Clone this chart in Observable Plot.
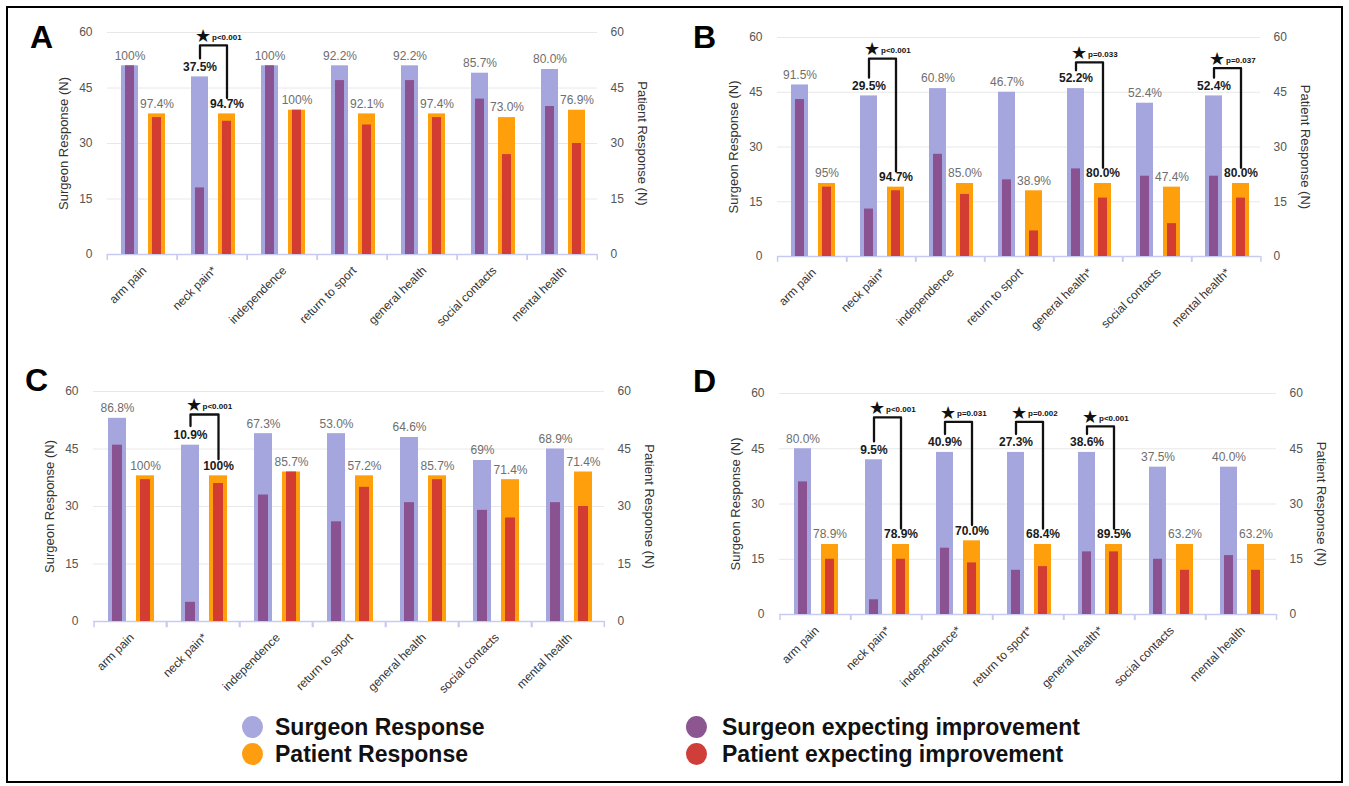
<!DOCTYPE html>
<html><head><meta charset="utf-8">
<script src="https://cdn.jsdelivr.net/npm/d3@7"></script>
<script src="https://cdn.jsdelivr.net/npm/@observablehq/plot@0.6"></script>
<style>
body{margin:0;background:#fff;font-family:"Liberation Sans",Arial,sans-serif;}
#fig{position:relative;width:1349px;height:786px;overflow:hidden;}
#border{position:absolute;left:6px;top:6px;width:1337px;height:777px;border:2px solid #000;box-sizing:border-box;}
.panel{position:absolute;}
.letter{position:absolute;font-size:32px;font-weight:bold;line-height:32px;color:#000;}
.leg{position:absolute;font-size:23px;font-weight:bold;line-height:23px;color:#111;white-space:nowrap;}
.dot{position:absolute;width:21px;height:22px;border-radius:50%;}
</style></head>
<body><div id="fig"><div id="border"></div></div>
<script>
// ---------- DATA ----------
const categories = ["arm pain","neck pain","independence","return to sport","general health","social contacts","mental health"];
const seriesNames = ["Surgeon","Patient"];
const yTicks = [0,15,30,45,60];

// Panel A
const aSurgeonN   = [51,48,51,51,51,49,50];
const aSurgeonImp = [51,18,51,47,47,42,40];
const aPatientN   = [38,38,39,38,38,37,39];
const aPatientImp = [37,36,39,35,37,27,30];
const aSurgeonPct = ["100%","37.5%","100%","92.2%","92.2%","85.7%","80.0%"];
const aPatientPct = ["97.4%","94.7%","100%","92.1%","97.4%","73.0%","76.9%"];
const aSigCats = ["neck pain"];
const aPValues = ["p<0.001"];
const aSigTop  = [56.5];

// Panel B
const bSurgeonN   = [47,44,46,45,46,42,44];
const bSurgeonImp = [43,13,28,21,24,22,22];
const bPatientN   = [20,19,20,18,20,19,20];
const bPatientImp = [19,18,17,7,16,9,16];
const bSurgeonPct = ["91.5%","29.5%","60.8%","46.7%","52.2%","52.4%","52.4%"];
const bPatientPct = ["95%","94.7%","85.0%","38.9%","80.0%","47.4%","80.0%"];
const bSigCats = ["neck pain","general health","mental health"];
const bPValues = ["p<0.001","p=0.033","p=0.037"];
const bSigTop  = [54.2,53.2,51.6];

// Panel C
const cSurgeonN   = [53,46,49,49,48,42,45];
const cSurgeonImp = [46,5,33,26,31,29,31];
const cPatientN   = [38,38,39,38,38,37,39];
const cPatientImp = [37,36,39,35,37,27,30];
const cSurgeonPct = ["86.8%","10.9%","67.3%","53.0%","64.6%","69%","68.9%"];
const cPatientPct = ["100%","100%","85.7%","57.2%","85.7%","71.4%","71.4%"];
const cSigCats = ["neck pain"];
const cPValues = ["p<0.001"];
const cSigTop  = [54];

// Panel D
const dSurgeonN   = [45,42,44,44,44,40,40];
const dSurgeonImp = [36,4,18,12,17,15,16];
const dPatientN   = [19,19,20,19,19,19,19];
const dPatientImp = [15,15,14,13,17,12,12];
const dSurgeonPct = ["80.0%","9.5%","40.9%","27.3%","38.6%","37.5%","40.0%"];
const dPatientPct = ["78.9%","78.9%","70.0%","68.4%","89.5%","63.2%","63.2%"];
const dSigCats = ["neck pain","independence","return to sport","general health"];
const dPValues = ["p<0.001","p=0.031","p=0.002","p<0.001"];
const dSigTop  = [53.5,52.3,52.3,51.1];

const legendLabels = ["Surgeon Response","Patient Response","Surgeon expecting improvement","Patient expecting improvement"];

// ---------- STYLE / LAYOUT ----------
const COL = {sResp:"#a6a6df", sImp:"#8a5290", pResp:"#ff9f0c", pImp:"#d23c31"};
const PI = 0.36, PO = 0.45, AL = 0.55;
const W = 660, H = 345;
const panels = [
  {id:"A", left:10,  top:0,   ml:94, mr:70, mt:32, mb:91, letterX:30,  letterY:21,
   sN:aSurgeonN, sI:aSurgeonImp, pN:aPatientN, pI:aPatientImp, sPct:aSurgeonPct, pPct:aPatientPct, sig:aSigCats, pv:aPValues, top2:aSigTop},
  {id:"B", left:680, top:0,   ml:94, mr:77, mt:37, mb:89, letterX:693, letterY:21,
   sN:bSurgeonN, sI:bSurgeonImp, pN:bPatientN, pI:bPatientImp, sPct:bSurgeonPct, pPct:bPatientPct, sig:bSigCats, pv:bPValues, top2:bSigTop},
  {id:"C", left:10,  top:360, ml:83, mr:66, mt:31, mb:84, letterX:25,  letterY:364,
   sN:cSurgeonN, sI:cSurgeonImp, pN:cPatientN, pI:cPatientImp, sPct:cSurgeonPct, pPct:cPatientPct, sig:cSigCats, pv:cPValues, top2:cSigTop},
  {id:"D", left:680, top:360, ml:96, mr:61, mt:33, mb:91, letterX:693, letterY:365,
   sN:dSurgeonN, sI:dSurgeonImp, pN:dPatientN, pI:dPatientImp, sPct:dSurgeonPct, pPct:dPatientPct, sig:dSigCats, pv:dPValues, top2:dSigTop}
];

function drawPanel(p) {
  const bars = categories.flatMap((c, i) => [
    {cat:c, who:"Surgeon", n:p.sN[i], imp:p.sI[i], pct:p.sPct[i], sig:p.sig.includes(c)},
    {cat:c, who:"Patient", n:p.pN[i], imp:p.pI[i], pct:p.pPct[i], sig:p.sig.includes(c)}
  ]);
  const brackets = p.sig.flatMap((c, k) => {
    const i = categories.indexOf(c);
    return [
      {cat:c, who:"Surgeon", y:p.sN[i] + 5},
      {cat:c, who:"Surgeon", y:p.top2[k]},
      {cat:c, who:"Patient", y:p.top2[k]},
      {cat:c, who:"Patient", y:p.pN[i] + 4.3}
    ];
  });
  const stars = p.sig.map((c, k) => ({cat:c, who:"Surgeon", y:p.top2[k], p:p.pv[k]}));
  const facetW = (W - p.ml - p.mr) / categories.length;
  const sb = d3.scaleBand(seriesNames, [0, facetW]).paddingInner(PI).paddingOuter(PO).align(AL);
  const half = sb.bandwidth() / 2;
  const leftDx = -(sb("Surgeon") + half);
  const rightDx = facetW - (sb("Patient") + half);
  const isS = d => d.who === "Surgeon";
  const isP = d => d.who === "Patient";
  const base = {fx:"cat", x:"who"};
  return Plot.plot({
    width: W, height: H,
    marginLeft: p.ml, marginRight: p.mr, marginTop: p.mt, marginBottom: p.mb,
    style: {fontFamily: "'Liberation Sans', Arial, sans-serif", fontSize: "12px", color: "#555", background: "transparent", overflow: "visible"},
    fx: {domain: categories, padding: 0, axis: null},
    x: {domain: seriesNames, paddingInner: PI, paddingOuter: PO, align: AL, axis: null},
    y: {domain: [0, 60]},
    marks: [
      Plot.gridY([15,30,45,60], {stroke: "#e8e8e8", strokeOpacity: 1}),
      Plot.ruleY([0], {stroke: "#c8cbf1", strokeWidth: 1.5}),
      Plot.ruleX(["Surgeon"], {y1: 0, y2: -1.6, dx: leftDx, stroke: "#c8cbf1", strokeWidth: 1.5}),
      Plot.ruleX(["Patient"], {y1: 0, y2: -1.6, dx: rightDx, stroke: "#c8cbf1", strokeWidth: 1.5}),
      Plot.barY(bars.filter(isS), {...base, y: "n", fill: COL.sResp}),
      Plot.barY(bars.filter(isS), {...base, y: "imp", fill: COL.sImp, insetLeft: 4, insetRight: 4}),
      Plot.barY(bars.filter(isP), {...base, y: "n", fill: COL.pResp}),
      Plot.barY(bars.filter(isP), {...base, y: "imp", fill: COL.pImp, insetLeft: 4, insetRight: 4}),
      Plot.text(bars.filter(d => !d.sig), {...base, y: "n", text: "pct", dy: -10, fill: "#6e6e6e", fontSize: 12}),
      Plot.text(bars.filter(d => d.sig), {...base, y: "n", text: "pct", dy: -10, fill: "#1a1a1a", fontSize: 12, fontWeight: "bold"}),
      Plot.line(brackets, {...base, y: "y", z: "cat", stroke: "#111", strokeWidth: 2.3}),
      Plot.text(stars, {...base, y: "y", text: () => "\u2605", dx: 3, dy: -9, fontSize: 18, fill: "#111"}),
      Plot.text(stars, {...base, y: "y", text: "p", dx: 12, dy: -8, textAnchor: "start", fontSize: 8, fontWeight: "bold", fill: "#111"}),
      Plot.axisY({anchor: "left", ticks: yTicks, tickSize: 0, tickPadding: 15, label: null, fontSize: 12}),
      Plot.axisY({anchor: "right", ticks: yTicks, tickSize: 0, tickPadding: 13, label: null, fontSize: 12}),
      // category labels, rotated 45°
      Plot.text(categories, {fx: d => d, frameAnchor: "bottom", text: c => p.sig.includes(c) ? c + "*" : c,
                             rotate: -45, textAnchor: "end", lineAnchor: "middle", dx: 2, dy: 14, fontSize: 12, fill: "#333"}),
      Plot.text(["Surgeon Response (N)"], {fx: () => categories[0], frameAnchor: "left", textAnchor: "middle", rotate: -90, dx: -44, fontSize: 13, fill: "#333"}),
      Plot.text(["Patient Response (N)"], {fx: () => categories[categories.length - 1], frameAnchor: "right", textAnchor: "middle", rotate: 90, dx: 45, fontSize: 13, fill: "#333"})
    ]
  });
}

const fig = document.getElementById("fig");
for (const p of panels) {
  const wrap = document.createElement("div");
  wrap.className = "panel";
  wrap.style.left = p.left + "px";
  wrap.style.top = p.top + "px";
  wrap.appendChild(drawPanel(p));
  fig.appendChild(wrap);
  const L = document.createElement("div");
  L.className = "letter";
  L.style.left = p.letterX + "px";
  L.style.top = p.letterY + "px";
  L.textContent = p.id;
  fig.appendChild(L);
}

// legend
const legendColors = ["#a8a8de", "#ff9d10", "#8c5690", "#d03e3a"];
const legendPos = [[242, 275, 716], [242, 275, 743], [686, 722, 716], [686, 722, 743]];
legendLabels.forEach((lab, i) => {
  const [dx, tx, ty] = legendPos[i];
  const d = document.createElement("div");
  d.className = "dot";
  d.style.left = dx + "px"; d.style.top = ty + "px";
  d.style.background = legendColors[i];
  fig.appendChild(d);
  const t = document.createElement("div");
  t.className = "leg";
  t.style.left = tx + "px"; t.style.top = (ty - 0.5) + "px";
  t.textContent = lab;
  fig.appendChild(t);
});
</script>
</body></html>
